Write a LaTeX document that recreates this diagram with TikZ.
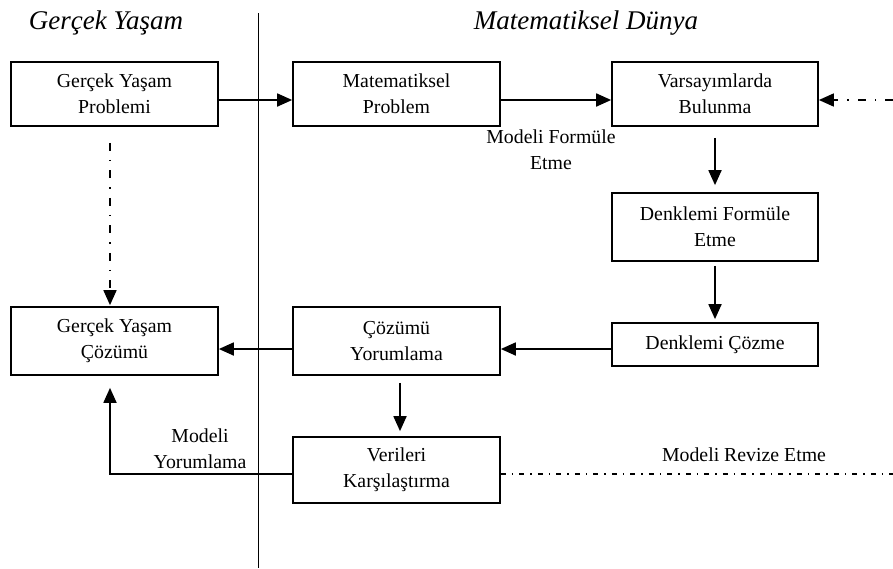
\documentclass[tikz,border=0pt]{standalone}
\usepackage{fontspec}
\setmainfont{Liberation Serif}
\usetikzlibrary{arrows.meta}
\begin{document}
\begin{tikzpicture}[x=1pt,y=-1pt,
  box/.style={draw,line width=1.7pt,rectangle,minimum width=207pt,inner sep=0pt,align=center,font=\fontsize{19.8}{26}\selectfont},
  lbl/.style={align=center,inner sep=0pt,font=\fontsize{19.8}{26}\selectfont},
  ttl/.style={inner sep=0pt,font=\fontsize{27}{30}\selectfont\itshape},
  arr/.style={line width=1.8pt,-{Triangle[length=15pt,width=13pt]}},
  dd/.style={line width=2pt,dash pattern=on 8pt off 9pt on 1.5pt off 9pt},
  ddb/.style={line width=1.1pt,dash pattern=on 5pt off 6pt on 1.5pt off 6pt}]
\useasboundingbox (0,0) rectangle (893,568);
\node[ttl] (t1) at (106,23) {Gerçek Yaşam};
\node[ttl] (t2) at (586,23) {Matematiksel Dünya};
\coordinate (dtop) at (258,13);
\coordinate (dbot) at (258,568);
\draw[line width=1pt] (dtop) -- (dbot);
\node[box,minimum height=64pt] (b1) at (114.5,94) {Gerçek Yaşam\\Problemi};
\node[box,minimum height=64pt] (b2) at (396.5,94) {Matematiksel\\Problem};
\node[box,minimum height=64pt,minimum width=206pt] (b3) at (715,94) {Varsayımlarda\\Bulunma};
\node[box,minimum height=68pt,minimum width=206pt] (b4) at (715,227) {Denklemi Formüle\\Etme};
\node[box,minimum height=43pt,minimum width=206pt] (b5) at (715,344.5) {Denklemi Çözme};
\node[box,minimum height=68pt] (b6) at (396.5,341) {Çözümü\\Yorumlama};
\node[box,minimum height=68pt] (b7) at (114.5,341) {Gerçek Yaşam\\Çözümü};
\node[box,minimum height=66pt] (b8) at (396.5,470) {Verileri\\Karşılaştırma};
\node[lbl] (l1) at (551,150) {Modeli Formüle\\Etme};
\node[lbl] (l2) at (200,449) {Modeli\\Yorumlama};
\node[lbl] (l3) at (744,455) {Modeli Revize Etme};
\coordinate (rtop) at (893,100);
\coordinate (rbot) at (893,474);
\draw[arr] ([yshift=-6pt]b1.east) -- ([yshift=-6pt]b2.west);
\draw[arr] ([yshift=-6pt]b2.east) -- ([yshift=-6pt]b3.west);
\draw[dd] (rtop) -- ([xshift=14pt,yshift=-6pt]b3.east);
\draw[line width=1.6pt,-{Triangle[length=15pt,width=13pt]}] ([xshift=14pt,yshift=-6pt]b3.east) -- ([yshift=-6pt]b3.east);
\draw[arr] ([yshift=-11pt]b3.south) -- ([yshift=7pt]b4.north);
\draw[arr] ([yshift=-4pt]b4.south) -- ([yshift=3pt]b5.north);
\draw[arr] ([yshift=-4.5pt]b5.west) -- ([yshift=-4.5pt]b5.west -| b6.east);
\draw[arr] ([yshift=-8pt]b6.west) -- ([yshift=-8pt]b7.east);
\draw[arr] ([xshift=3.5pt,yshift=-7pt]b6.south) -- ([xshift=3.5pt,yshift=5pt]b8.north);
\draw[arr] ([yshift=-4pt]b8.west) -| ([xshift=-4.5pt,yshift=-12pt]b7.south);
\draw[dd] ([xshift=-4.5pt,yshift=-16pt]b1.south) -- ([xshift=-4.5pt,yshift=15pt]b7.north);
\draw[line width=1.6pt,-{Triangle[length=15pt,width=13pt]}] ([xshift=-4.5pt,yshift=15pt]b7.north) -- ([xshift=-4.5pt,yshift=1pt]b7.north);
\draw[ddb] ([yshift=-4pt]b8.east) -- (rbot);
\end{tikzpicture}
\end{document}
